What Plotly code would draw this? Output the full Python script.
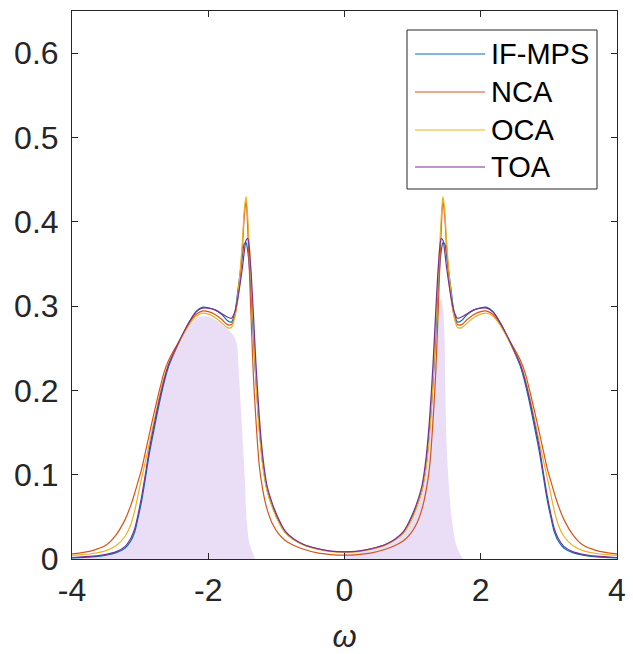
import plotly.graph_objects as go

# ---------------- data ----------------
omega_left = [-4.0, -3.7, -3.5, -3.35, -3.22, -3.14, -3.08, -3.03, -2.98, -2.93,
              -2.86, -2.79, -2.72, -2.65, -2.58, -2.48, -2.38, -2.28, -2.18, -2.09,
              -2.00, -1.90, -1.80, -1.72, -1.66, -1.61, -1.56, -1.50, -1.47, -1.445,
              -1.42, -1.38, -1.34, -1.30, -1.25, -1.20, -1.14, -1.06, -0.97, -0.87,
              -0.75, -0.6, -0.4, -0.2]
omega_right = [0.0, 0.2, 0.4, 0.6, 0.75, 0.87, 0.97, 1.06, 1.14, 1.20,
               1.25, 1.30, 1.34, 1.38, 1.42, 1.445, 1.47, 1.50, 1.56, 1.61,
               1.66, 1.72, 1.80, 1.90, 2.00, 2.09, 2.18, 2.28, 2.38, 2.48,
               2.58, 2.65, 2.72, 2.79, 2.86, 2.93, 2.98, 3.03, 3.08, 3.14,
               3.22, 3.35, 3.5, 3.7, 4.0]

ifmps_left = [0.0012, 0.0025, 0.0045, 0.0075, 0.013, 0.021, 0.032, 0.049, 0.068, 0.092,
              0.127, 0.156, 0.184, 0.209, 0.229, 0.248, 0.265, 0.281, 0.2935, 0.2985,
              0.298, 0.2955, 0.290, 0.283, 0.281, 0.292, 0.322, 0.358, 0.374, 0.375,
              0.365, 0.328, 0.268, 0.21, 0.155, 0.113, 0.083, 0.063, 0.046, 0.032,
              0.0235, 0.017, 0.0122, 0.0092]
ifmps_right = [0.0085, 0.0092, 0.0122, 0.017, 0.0235, 0.032, 0.046, 0.063, 0.083, 0.113,
               0.155, 0.21, 0.268, 0.328, 0.365, 0.375, 0.374, 0.358, 0.322, 0.292,
               0.281, 0.283, 0.290, 0.2955, 0.298, 0.2985, 0.2935, 0.281, 0.265, 0.248,
               0.229, 0.209, 0.184, 0.156, 0.127, 0.092, 0.068, 0.049, 0.032, 0.021,
               0.013, 0.0075, 0.0045, 0.0025, 0.0012]

nca_left = [0.006, 0.010, 0.0165, 0.029, 0.047, 0.063, 0.078, 0.092, 0.106, 0.124,
            0.150, 0.175, 0.199, 0.221, 0.236, 0.251, 0.265, 0.279, 0.290, 0.294,
            0.2935, 0.290, 0.284, 0.278, 0.278, 0.288, 0.313, 0.368, 0.408, 0.425,
            0.392, 0.305, 0.222, 0.165, 0.110, 0.082, 0.060, 0.042, 0.030, 0.022,
            0.0163, 0.0115, 0.0072, 0.0053]
nca_right = [0.0047, 0.0053, 0.0072, 0.0115, 0.0163, 0.022, 0.030, 0.042, 0.060, 0.082,
             0.110, 0.165, 0.222, 0.305, 0.392, 0.425, 0.408, 0.368, 0.313, 0.288,
             0.278, 0.278, 0.284, 0.290, 0.2935, 0.294, 0.290, 0.279, 0.265, 0.251,
             0.236, 0.221, 0.199, 0.175, 0.150, 0.124, 0.106, 0.092, 0.078, 0.063,
             0.047, 0.029, 0.0165, 0.010, 0.006]

oca_left = [0.0042, 0.0065, 0.010, 0.016, 0.027, 0.040, 0.057, 0.076, 0.095, 0.113,
            0.139, 0.166, 0.192, 0.215, 0.232, 0.248, 0.264, 0.278, 0.288, 0.2915,
            0.2905, 0.2865, 0.280, 0.2745, 0.2745, 0.287, 0.318, 0.375, 0.415, 0.430,
            0.405, 0.345, 0.278, 0.212, 0.150, 0.110, 0.082, 0.061, 0.044, 0.031,
            0.023, 0.0165, 0.0118, 0.0088]
oca_right = [0.008, 0.0088, 0.0118, 0.0165, 0.023, 0.031, 0.044, 0.061, 0.082, 0.110,
             0.150, 0.212, 0.278, 0.345, 0.405, 0.430, 0.415, 0.375, 0.318, 0.287,
             0.2745, 0.2745, 0.280, 0.2865, 0.2905, 0.2915, 0.288, 0.278, 0.264, 0.248,
             0.232, 0.215, 0.192, 0.166, 0.139, 0.113, 0.095, 0.076, 0.057, 0.040,
             0.027, 0.016, 0.010, 0.0065, 0.0042]

toa_left = [0.0018, 0.0033, 0.0055, 0.0088, 0.015, 0.024, 0.036, 0.053, 0.073, 0.097,
            0.132, 0.161, 0.188, 0.212, 0.231, 0.249, 0.266, 0.281, 0.293, 0.2975,
            0.2975, 0.2955, 0.291, 0.287, 0.2855, 0.293, 0.312, 0.345, 0.365, 0.378,
            0.380, 0.350, 0.295, 0.232, 0.168, 0.122, 0.088, 0.066, 0.048, 0.033,
            0.024, 0.0172, 0.0124, 0.0093]
toa_right = [0.0085, 0.0093, 0.0124, 0.0172, 0.024, 0.033, 0.048, 0.066, 0.088, 0.122,
             0.168, 0.232, 0.295, 0.350, 0.380, 0.378, 0.365, 0.345, 0.312, 0.293,
             0.2855, 0.287, 0.291, 0.2955, 0.2975, 0.2975, 0.293, 0.281, 0.266, 0.249,
             0.231, 0.212, 0.188, 0.161, 0.132, 0.097, 0.073, 0.053, 0.036, 0.024,
             0.015, 0.0088, 0.0055, 0.0033, 0.0018]

# shaded (occupied) weight
shade_left_omega = [-4.0, -3.7, -3.5, -3.35, -3.22, -3.14, -3.08, -3.03, -2.98, -2.93,
                    -2.86, -2.79, -2.72, -2.65, -2.58, -2.48, -2.38, -2.28, -2.18, -2.09,
                    -2.00, -1.90, -1.80, -1.72, -1.66, -1.62, -1.58, -1.545, -1.515, -1.486,
                    -1.46, -1.44, -1.40, -1.35, -1.31]
shade_left_values = [0.001, 0.0025, 0.0045, 0.0075, 0.013, 0.021, 0.032, 0.049, 0.068, 0.092,
                     0.127, 0.156, 0.184, 0.208, 0.228, 0.246, 0.262, 0.277, 0.2855, 0.288,
                     0.2875, 0.284, 0.2785, 0.273, 0.268, 0.264, 0.255, 0.212, 0.17, 0.129,
                     0.09, 0.05, 0.02, 0.008, 0.0]
shade_right_omega = [0.0, 0.2, 0.4, 0.6, 0.75, 0.87, 0.97, 1.06, 1.14, 1.20,
                     1.25, 1.30, 1.34, 1.38, 1.42, 1.45, 1.47, 1.48, 1.50, 1.525,
                     1.56, 1.59, 1.62, 1.66, 1.70, 1.74]
shade_right_values = [0.0085, 0.0092, 0.0122, 0.017, 0.0235, 0.032, 0.046, 0.063, 0.083, 0.113,
                      0.155, 0.21, 0.262, 0.298, 0.308, 0.295, 0.26, 0.20, 0.135, 0.094,
                      0.058, 0.038, 0.023, 0.012, 0.005, 0.0]

series_names = ["IF-MPS", "NCA", "OCA", "TOA"]
series_colors = ["#0072BD", "#D95319", "#EDB120", "#7E2F8E"]
series_data = [(ifmps_left, ifmps_right), (nca_left, nca_right),
               (oca_left, oca_right), (toa_left, toa_right)]

x_ticks = [-4, -2, 0, 2, 4]
x_ticktext = ["-4", "-2", "0", "2", "4"]
y_ticks = [0, 0.1, 0.2, 0.3, 0.4, 0.5, 0.6]
y_ticktext = ["0", "0.1", "0.2", "0.3", "0.4", "0.5", "0.6"]

shade_color = "#E9DEF5"
axis_color = "#262626"
FONT = "Liberation Sans, Arial, sans-serif"

# ---------------- figure ----------------
fig = go.Figure()

fig.add_trace(go.Scatter(x=shade_left_omega, y=shade_left_values, mode="lines",
                         line=dict(width=0, shape="spline", smoothing=0.6),
                         fill="tozeroy", fillcolor=shade_color,
                         showlegend=False, hoverinfo="skip"))
fig.add_trace(go.Scatter(x=shade_right_omega, y=shade_right_values, mode="lines",
                         line=dict(width=0, shape="spline", smoothing=0.6),
                         fill="tozeroy", fillcolor=shade_color,
                         showlegend=False, hoverinfo="skip"))

omega = omega_left + omega_right
for name, color, (left, right) in zip(series_names, series_colors, series_data):
    fig.add_trace(go.Scatter(x=omega, y=left + right, mode="lines", name=name,
                             line=dict(color=color, width=1.2, shape="spline", smoothing=0.8),
                             showlegend=False))

# ---------------- manual MATLAB-style legend ----------------
px0, px1 = 72, 617
py0, py1 = 11, 559
def xp(px):
    return (px - px0) / (px1 - px0)
def yp(py):
    return (py1 - py) / (py1 - py0)

shapes = [dict(type="rect", xref="paper", yref="paper",
               x0=xp(407), x1=xp(597), y0=yp(189), y1=yp(30),
               line=dict(color=axis_color, width=1), fillcolor="white", layer="above")]
annotations = []
row_y = [54, 92, 130, 167]
for name, color, ry in zip(series_names, series_colors, row_y):
    shapes.append(dict(type="line", xref="paper", yref="paper",
                       x0=xp(415), x1=xp(485), y0=yp(ry), y1=yp(ry),
                       line=dict(color=color, width=1.2), layer="above"))
    annotations.append(dict(x=xp(489), y=yp(ry), xref="paper", yref="paper",
                            text=name, showarrow=False, xanchor="left", yanchor="middle",
                            font=dict(family=FONT, size=29, color="black")))

fig.update_layout(
    width=633, height=654,
    margin=dict(l=px0, r=633 - px1, t=py0, b=654 - py1),
    paper_bgcolor="white", plot_bgcolor="white",
    shapes=shapes, annotations=annotations,
    showlegend=False,
    font=dict(family=FONT, size=32, color=axis_color),
)
fig.update_xaxes(range=[-4, 4], tickvals=x_ticks, ticktext=x_ticktext,
                 ticks="inside", ticklen=6, tickcolor=axis_color, tickwidth=1,
                 showline=True, linecolor=axis_color, linewidth=1, mirror="ticks",
                 showgrid=False, zeroline=False, ticklabelstandoff=3, automargin=False,
                 tickfont=dict(family=FONT, size=32, color=axis_color),
                 title=dict(text="<i>ω</i>", font=dict(family=FONT, size=31, color=axis_color),
                            standoff=25))
fig.update_yaxes(range=[0, 0.65], tickvals=y_ticks, ticktext=y_ticktext,
                 ticks="inside", ticklen=6, tickcolor=axis_color, tickwidth=1,
                 showline=True, linecolor=axis_color, linewidth=1, mirror="ticks",
                 showgrid=False, zeroline=False, ticklabelstandoff=6, automargin=False,
                 tickfont=dict(family=FONT, size=32, color=axis_color))

fig.write_html("out.html")
